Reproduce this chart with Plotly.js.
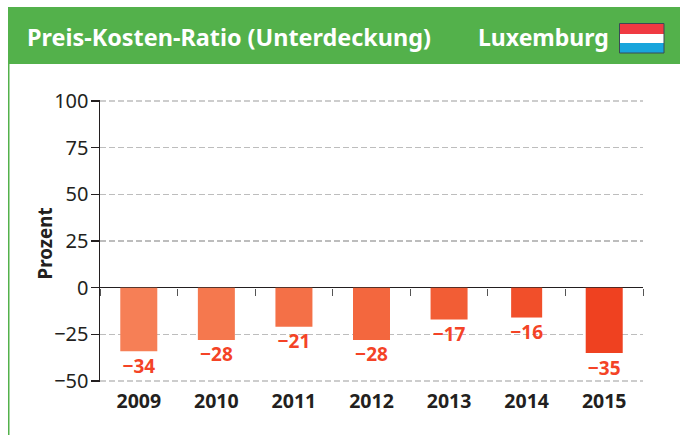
<!DOCTYPE html>
<html><head><meta charset="utf-8">
<script src="https://cdn.plot.ly/plotly-3.0.1.min.js"></script>
<style>html,body{margin:0;padding:0;background:#fff}#c{width:680px;height:435px}</style></head>
<body><div id="c"></div>
<script>
const years = ['2009','2010','2011','2012','2013','2014','2015'];
const ratio = [-34,-28,-21,-28,-17,-16,-35];
const labels = ['−34','−28','−21','−28','−17','−16','−35'];
const barColors = ['#F67F56','#F5784E','#F47047','#F3673E','#F25D35','#F14F2A','#EF4120'];
const barWidths = [0.477,0.477,0.477,0.477,0.477,0.4,0.477];
const yTicks = [-50,-25,0,25,50,75,100];
const yRange = [-50.536,100.536];
const titleText = 'Preis-Kosten-Ratio (Unterdeckung)';
const countryText = 'Luxemburg';
const yTitleText = 'Prozent';

const W=680,H=435,L=100,R=37,T=100,B=53;
const px=x=>(x-L)/(W-L-R), py=y=>(H-B-y)/(H-T-B);
const rect=(x0,y0,x1,y1,fill,line,lw)=>({type:'rect',xref:'paper',yref:'paper',layer:'above',
  x0:px(x0),x1:px(x1),y0:py(y1),y1:py(y0),fillcolor:fill,line:{color:line||fill,width:lw||0}});
const font='"Noto Sans", sans-serif', dark='#231f20', red='#F44326', green='#53B14B';
const edgeGrid=v=>({type:'line',xref:'paper',yref:'y',x0:0,x1:1,y0:v,y1:v,layer:'below',line:{color:'#bdbdbd',width:1.5,dash:'6px,3px'}});

const data=[
 {type:'bar',x:years,y:ratio,xaxis:'x2',yaxis:'y',width:barWidths,marker:{color:barColors,line:{width:0}},hoverinfo:'x+y',showlegend:false},
 {type:'scatter',mode:'text+markers',x:years,y:ratio,xaxis:'x',yaxis:'y',text:labels,textposition:'bottom center',
  marker:{size:10,opacity:0},
  textfont:{family:font,size:19,color:red,weight:700},hoverinfo:'skip',showlegend:false,cliponaxis:false}
];
const layout={
 width:W,height:H,margin:{l:L,r:R,t:T,b:B,pad:0},paper_bgcolor:'#fff',plot_bgcolor:'#fff',
 font:{family:font,color:dark},showlegend:false,
 xaxis:{type:'category',range:[-0.5,6.5],categoryorder:'array',categoryarray:years,showgrid:false,zeroline:false,showline:false,
   ticks:'',ticklabelstandoff:5,tickfont:{family:font,size:19.5,color:dark,weight:700}},
 xaxis2:{type:'category',overlaying:'x',anchor:'free',position:(0-yRange[0])/(yRange[1]-yRange[0]),range:[-0.5,6.5],categoryorder:'array',categoryarray:years,
   showgrid:false,zeroline:false,showline:false,ticks:'outside',tickson:'boundaries',ticklen:7,tickwidth:1,tickcolor:'#555',showticklabels:false},
 yaxis:{range:yRange,tickvals:yTicks,showgrid:true,gridcolor:'#bdbdbd',griddash:'6px,3px',gridwidth:1.2,
   zeroline:true,zerolinecolor:dark,zerolinewidth:1.5,
   showline:true,linecolor:dark,linewidth:1.5,ticks:'outside',ticklen:8,tickwidth:1.5,tickcolor:dark,ticklabelstandoff:-2,
   tickfont:{family:font,size:20,color:dark},automargin:false},
 shapes:[
   edgeGrid(yTicks[0]),
   edgeGrid(yTicks[yTicks.length-1]),
   rect(8,7,680,64,green),
   rect(8,64,9.5,435,green),
   rect(620,24,664,34,'#EF3A42'),
   rect(620,34,664,43,'#FFFFFF'),
   rect(620,43,664,53,'#18A5DC'),
   Object.assign(rect(619.5,23.5,664,53),{fillcolor:'rgba(0,0,0,0)',line:{color:'#3b4a55',width:1}})
 ],
 annotations:[
   {xref:'paper',yref:'paper',x:px(25),y:py(37),xanchor:'left',yanchor:'middle',text:titleText,showarrow:false,font:{family:font,size:23.4,color:'#fff',weight:700}},
   {xref:'paper',yref:'paper',x:px(611),y:py(37),xanchor:'right',yanchor:'middle',text:countryText,showarrow:false,font:{family:font,size:23,color:'#fff',weight:700}},
   {xref:'paper',yref:'paper',x:px(44),y:py(243.5),xanchor:'center',yanchor:'middle',textangle:-90,text:yTitleText,showarrow:false,font:{family:font,size:18.8,color:dark,weight:700}}
 ]
};
Plotly.newPlot('c',data,layout,{displayModeBar:false,staticPlot:true});
</script></body></html>
